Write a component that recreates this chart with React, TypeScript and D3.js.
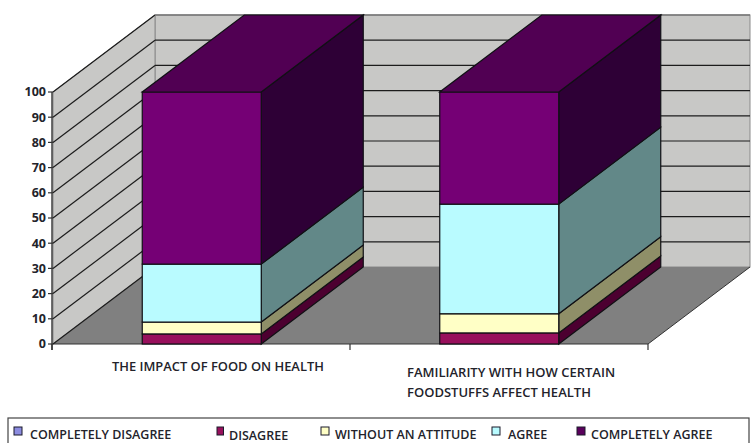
import React from "react";
import * as d3 from "d3";

// Survey responses, percent of respondents per answer
const categories = ["impact", "familiarity"];
const categoryLines = [
  ["THE IMPACT OF FOOD ON HEALTH"],
  ["FAMILIARITY WITH HOW CERTAIN", "FOODSTUFFS AFFECT HEALTH"],
];
const answers = ["COMPLETELY DISAGREE", "DISAGREE", "WITHOUT AN ATTITUDE", "AGREE", "COMPLETELY AGREE"];
const completelyDisagree = [0, 0];
const disagree = [4, 4.4];
const withoutAttitude = [4.7, 7.6];
const agree = [23, 43.5];
const completelyAgree = [68.3, 44.5];
const seriesValues = [completelyDisagree, disagree, withoutAttitude, agree, completelyAgree];
const yTicks = [0, 10, 20, 30, 40, 50, 60, 70, 80, 90, 100];

const frontFill = ["#7f7fd0", "#98105c", "#ffffc6", "#b9fbff", "#750075"];
const sideFill = ["#40406a", "#4c0030", "#8f8f68", "#628888", "#2e0036"];
const topFill = ["#5f5f9c", "#720a45", "#bfbf94", "#8bbcbf", "#510053"];
const swatchFill = ["#8c8ce0", "#98105c", "#ffffc6", "#b9fbff", "#5a005c"];
const legendSwatchX = [14, 217, 321, 492, 577];
const legendTextX = [30, 229, 335, 508, 591];
const legendTextY = [439, 439.5, 439, 439, 439];

const WIDTH = 751;
const HEIGHT = 443;
const DEPTH_X = 102;
const DEPTH_Y = -77;
const FONT = "'Open Sans', sans-serif";
const INK = "#23232b";

const y = d3.scaleLinear().domain([0, 100]).range([344, 92]);
const x = d3.scaleBand().domain(categories).range([53, 648]).paddingInner(0.6).paddingOuter(0.3);

const rows = categories.map((c, i) => {
  const row: Record<string, number | string> = { category: c };
  answers.forEach((a, k) => (row[a] = seriesValues[k][i]));
  return row;
});
const stacked = d3.stack<Record<string, number | string>>().keys(answers)(rows as never);

const poly = (pts: [number, number][]) => pts.map((p) => p.join(",")).join(" ");

export default function App() {
  const x0 = x.range()[0];
  const x1 = x.range()[1];
  const y0 = y(0);
  const y100 = y(100);
  const floor: [number, number][] = [
    [x0, y0],
    [x0 + DEPTH_X, y0 + DEPTH_Y],
    [x1 + DEPTH_X, y0 + DEPTH_Y],
    [x1, y0],
  ];
  const midTick = (x0 + x1) / 2 - 0.5;
  return (
    <svg
      width={WIDTH}
      height={HEIGHT}
      style={{ position: "absolute", left: 0, top: 0, display: "block", background: "#fff" }}
    >
      {/* Back and side walls */}
      <rect
        x={x0 + DEPTH_X}
        y={y100 + DEPTH_Y}
        width={x1 - x0}
        height={y0 - y100}
        fill="#c8c8c6"
        stroke="#8a8a8a"
      />
      <polygon
        points={poly([
          [x0, y0],
          [x0, y100],
          [x0 + DEPTH_X, y100 + DEPTH_Y],
          [x0 + DEPTH_X, y0 + DEPTH_Y],
        ])}
        fill="#c8c8c6"
        stroke="#8a8a8a"
      />
      <polygon points={poly(floor)} fill="#808080" />
      <polyline
        points={poly([floor[0], floor[3], floor[2]])}
        fill="none"
        stroke="#333"
        strokeWidth={1}
      />

      {/* Gridlines across both walls */}
      {yTicks.map((t) => (
        <g key={t} stroke="#1c1c1c" strokeWidth={1.2} fill="none">
          <line x1={x0} x2={x0 + DEPTH_X} y1={y(t)} y2={y(t) + DEPTH_Y} />
          {t > 0 && t < 100 && (
            <line x1={x0 + DEPTH_X} x2={x1 + DEPTH_X} y1={y(t) + DEPTH_Y} y2={y(t) + DEPTH_Y} />
          )}
        </g>
      ))}
      <line
        x1={x0 + DEPTH_X}
        x2={x1 + DEPTH_X}
        y1={y100 + DEPTH_Y}
        y2={y100 + DEPTH_Y}
        stroke="#777"
        strokeWidth={1.5}
      />

      {/* Stacked 3D columns */}
      {categories.map((c, ci) => {
        const left = x(c)!;
        const right = left + x.bandwidth();
        return (
          <g key={c} stroke="#101014" strokeWidth={1.2}>
            {stacked.map((layer, k) => {
              const [v0, v1] = layer[ci];
              if (v1 - v0 <= 0) return null;
              const yb = y(v0);
              const yt = y(v1);
              return (
                <g key={answers[k]}>
                  <polygon
                    points={poly([
                      [right, yb],
                      [right, yt],
                      [right + DEPTH_X, yt + DEPTH_Y],
                      [right + DEPTH_X, yb + DEPTH_Y],
                    ])}
                    fill={sideFill[k]}
                  />
                  <rect x={left} y={yt} width={right - left} height={yb - yt} fill={frontFill[k]} />
                  {k === answers.length - 1 && (
                    <polygon
                      points={poly([
                        [left, yt],
                        [right, yt],
                        [right + DEPTH_X, yt + DEPTH_Y],
                        [left + DEPTH_X, yt + DEPTH_Y],
                      ])}
                      fill={topFill[k]}
                    />
                  )}
                </g>
              );
            })}
          </g>
        );
      })}

      {/* Value axis */}
      <line x1={x0 - 1} x2={x0 - 1} y1={y100} y2={y0 + 6} stroke="#333" strokeWidth={1.4} />
      {yTicks.map((t) => (
        <g key={t}>
          <line x1={x0 - 5} x2={x0} y1={y(t)} y2={y(t)} stroke="#333" strokeWidth={1.2} />
          <text
            x={46}
            y={y(t)}
            dy="0.35em"
            textAnchor="end"
            fontFamily={FONT}
            fontSize={12.5}
            fontWeight={700}
            fill={INK}
          >
            {t}
          </text>
        </g>
      ))}

      {/* Category axis */}
      {[x0 - 1, midTick, x1].map((tx) => (
        <line key={tx} x1={tx} x2={tx} y1={y0} y2={y0 + 6} stroke="#333" strokeWidth={1.2} />
      ))}
      <text x={112} y={371} fontFamily={FONT} fontSize={12.9} fontWeight={600} fill={INK}>
        {categoryLines[0][0]}
      </text>
      {categoryLines[1].map((line, i) => (
        <text key={line} x={407} y={377 + i * 19.5} fontFamily={FONT} fontSize={13} fontWeight={600} fill={INK}>
          {line}
        </text>
      ))}

      {/* Legend */}
      <rect x={8} y={418} width={741} height={40} fill="#fff" stroke="#444" strokeWidth={1.2} />
      {answers.map((a, k) => (
        <g key={a}>
          <rect
            x={legendSwatchX[k]}
            y={427}
            width={k === 1 ? 6.5 : 8}
            height={8}
            fill={swatchFill[k]}
            stroke="#1a1a2a"
            strokeWidth={1}
          />
          <text
            x={legendTextX[k]}
            y={legendTextY[k]}
            fontFamily={FONT}
            fontSize={12.5}
            fontWeight={600}
            fill={INK}
          >
            {a}
          </text>
        </g>
      ))}
    </svg>
  );
}
